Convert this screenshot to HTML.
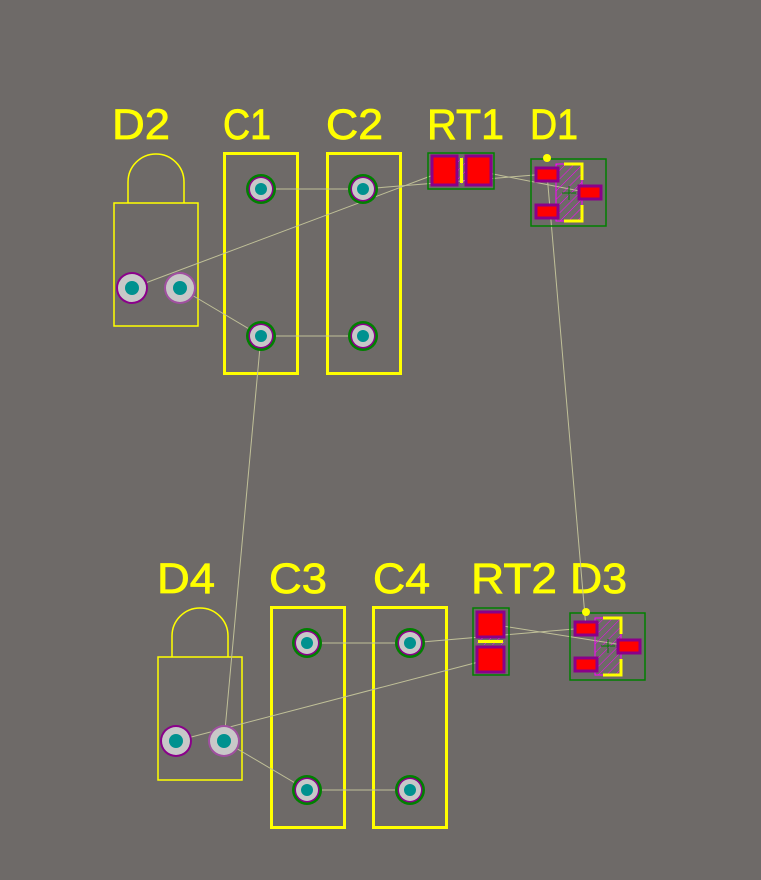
<!DOCTYPE html>
<html><head><meta charset="utf-8"><style>
html,body{margin:0;padding:0;background:#6e6a68;}
svg{display:block}
text{font-family:"Liberation Sans",sans-serif;font-size:43px;fill:#ffff00;stroke:#ffff00;stroke-width:0.8;}
</style></head><body>
<svg width="761" height="880" viewBox="0 0 761 880" xmlns="http://www.w3.org/2000/svg">
<defs>
<pattern id="h" width="6" height="6" patternUnits="userSpaceOnUse" patternTransform="rotate(45)">
<line x1="0" y1="0" x2="0" y2="6" stroke="#ff00ff" stroke-width="1"/>
</pattern>
<g id="tht">
<circle r="15" fill="#008000"/><circle r="12.5" fill="#8a008a"/><circle r="11" fill="#c8c8c8"/><circle r="6" fill="#00918f"/>
</g>
<g id="dp">
<circle r="16" fill="#8a008a"/><circle r="14" fill="#c8c8c8"/><circle r="7" fill="#00918f"/>
</g>
<g id="dp2">
<circle r="16" fill="#a050a0"/><circle r="14" fill="#c8c8c8"/><circle r="7" fill="#00918f"/>
</g>
</defs>
<rect width="761" height="880" fill="#6e6a68"/>

<text x="112" y="139" textLength="58" lengthAdjust="spacingAndGlyphs">D2</text>
<text x="223" y="139" textLength="48" lengthAdjust="spacingAndGlyphs">C1</text>
<text x="326" y="139" textLength="57" lengthAdjust="spacingAndGlyphs">C2</text>
<text x="427" y="139" textLength="77" lengthAdjust="spacingAndGlyphs">RT1</text>
<text x="530" y="139" textLength="48" lengthAdjust="spacingAndGlyphs">D1</text>
<text x="157" y="593" textLength="58" lengthAdjust="spacingAndGlyphs">D4</text>
<text x="269" y="593" textLength="58" lengthAdjust="spacingAndGlyphs">C3</text>
<text x="373" y="593" textLength="57" lengthAdjust="spacingAndGlyphs">C4</text>
<text x="471" y="593" textLength="86" lengthAdjust="spacingAndGlyphs">RT2</text>
<text x="570" y="593" textLength="57" lengthAdjust="spacingAndGlyphs">D3</text>

<g fill="none" stroke="#ffff00">
<path d="M128 203 V182 A28 28 0 0 1 184 182 V203" stroke-width="1.5"/>
<rect x="114" y="203" width="84" height="123" stroke-width="1.5"/>
<rect x="224.5" y="153.5" width="73" height="220" stroke-width="3"/>
<rect x="327.5" y="153.5" width="73" height="220" stroke-width="3"/>
<path d="M172 657 V636 A28 28 0 0 1 228 636 V657" stroke-width="1.5"/>
<rect x="158" y="657" width="84" height="123" stroke-width="1.5"/>
<rect x="271.5" y="607.5" width="73" height="220" stroke-width="3"/>
<rect x="373.5" y="607.5" width="73" height="220" stroke-width="3"/>
</g>

<!-- ratsnest -->
<g stroke="#c0c098" stroke-width="1" fill="none">
<line x1="261" y1="189" x2="363" y2="189"/>
<line x1="363" y1="189" x2="547" y2="174"/>
<line x1="132" y1="288" x2="444" y2="171"/>
<line x1="478" y1="171" x2="590" y2="193"/>
<line x1="547" y1="174" x2="586" y2="628"/>
<line x1="180" y1="288" x2="261" y2="336"/>
<line x1="261" y1="336" x2="363" y2="336"/>
<line x1="261" y1="336" x2="224" y2="741"/>
<line x1="307" y1="643" x2="410" y2="643"/>
<line x1="410" y1="643" x2="586" y2="628"/>
<line x1="176" y1="741" x2="490" y2="659"/>
<line x1="490" y1="624" x2="629" y2="646"/>
<line x1="224" y1="741" x2="307" y2="790"/>
<line x1="307" y1="790" x2="410" y2="790"/>
</g>

<rect x="428" y="153" width="66" height="36" fill="none" stroke="#008000" stroke-width="1.5"/>
<rect x="432" y="156" width="25" height="29" fill="#ff0000" stroke="#8a008a" stroke-width="3"/>
<rect x="466" y="156" width="25" height="29" fill="#ff0000" stroke="#8a008a" stroke-width="3"/>
<rect x="458" y="157" width="7" height="27" fill="url(#h)"/>
<rect x="460" y="158" width="3" height="25" fill="#ffff00"/>

<rect x="531" y="159" width="75" height="67" fill="none" stroke="#008000" stroke-width="1.5"/>
<rect x="556" y="164" width="26" height="57" fill="url(#h)" stroke="#ff00ff" stroke-width="1"/>
<path d="M564 164 H582 V180 M582 205 V221 H564" fill="none" stroke="#ffff00" stroke-width="3"/>
<path d="M562 193 H576 M569 186 V200" stroke="#008000" stroke-width="1"/>
<rect x="536" y="168" width="22" height="13" fill="#ff0000" stroke="#8a008a" stroke-width="3"/>
<rect x="536" y="205" width="22" height="13" fill="#ff0000" stroke="#8a008a" stroke-width="3"/>
<rect x="579" y="186" width="22" height="13" fill="#ff0000" stroke="#8a008a" stroke-width="3"/>
<circle cx="547" cy="158" r="4" fill="#ffff00"/>

<rect x="473" y="608" width="36" height="67" fill="none" stroke="#008000" stroke-width="1.5"/>
<rect x="477" y="612" width="27" height="25" fill="#ff0000" stroke="#8a008a" stroke-width="3"/>
<rect x="477" y="647" width="27" height="25" fill="#ff0000" stroke="#8a008a" stroke-width="3"/>
<rect x="477" y="638" width="27" height="7" fill="url(#h)"/>
<rect x="478" y="640" width="25" height="3" fill="#ffff00"/>

<rect x="570" y="613" width="75" height="67" fill="none" stroke="#008000" stroke-width="1.5"/>
<rect x="595" y="618" width="26" height="57" fill="url(#h)" stroke="#ff00ff" stroke-width="1"/>
<path d="M603 618 H621 V634 M621 659 V675 H603" fill="none" stroke="#ffff00" stroke-width="3"/>
<path d="M601 646 H615 M608 639 V653" stroke="#008000" stroke-width="1"/>
<rect x="575" y="622" width="22" height="13" fill="#ff0000" stroke="#8a008a" stroke-width="3"/>
<rect x="575" y="658" width="22" height="13" fill="#ff0000" stroke="#8a008a" stroke-width="3"/>
<rect x="618" y="640" width="22" height="13" fill="#ff0000" stroke="#8a008a" stroke-width="3"/>
<circle cx="586" cy="612" r="4" fill="#ffff00"/>

<use href="#dp" x="132" y="288"/><use href="#dp2" x="180" y="288"/>
<use href="#tht" x="261" y="189"/><use href="#tht" x="261" y="336"/>
<use href="#tht" x="363" y="189"/><use href="#tht" x="363" y="336"/>
<use href="#dp" x="176" y="741"/><use href="#dp2" x="224" y="741"/>
<use href="#tht" x="307" y="643"/><use href="#tht" x="307" y="790"/>
<use href="#tht" x="410" y="643"/><use href="#tht" x="410" y="790"/>
</svg>
</body></html>
